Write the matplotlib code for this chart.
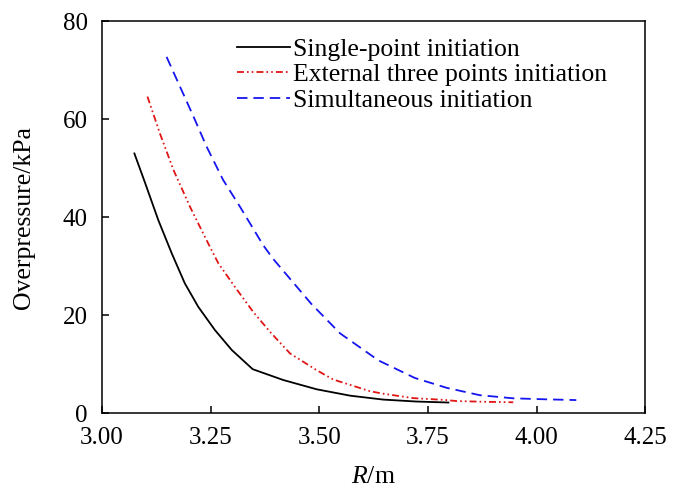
import matplotlib
matplotlib.use("Agg")
import matplotlib.pyplot as plt

plt.rcParams["font.family"] = ["Liberation Serif", "DejaVu Serif"]
plt.rcParams["mathtext.fontset"] = "custom"
plt.rcParams["mathtext.rm"] = "Liberation Serif"
plt.rcParams["mathtext.it"] = "Liberation Serif:italic"
plt.rcParams["lines.scale_dashes"] = False

# Single-point initiation
r_single = [3.075, 3.100, 3.130, 3.161, 3.191, 3.222, 3.260, 3.299, 3.347,
            3.417, 3.494, 3.571, 3.647, 3.724, 3.797]
p_single = [53.0, 46.9, 39.4, 32.6, 26.5, 21.7, 17.0, 12.9, 9.0,
            6.8, 4.9, 3.6, 2.8, 2.4, 2.2]

# External three points initiation
r_three = [3.105, 3.134, 3.165, 3.203, 3.237, 3.268, 3.306, 3.348, 3.387,
           3.433, 3.494, 3.532, 3.571, 3.617, 3.647, 3.716, 3.785, 3.816,
           3.880, 3.946]
p_three = [64.6, 57.0, 49.6, 42.1, 36.0, 30.6, 25.8, 20.7, 16.6,
           12.2, 8.8, 6.9, 5.8, 4.5, 4.0, 3.1, 2.75, 2.5,
           2.35, 2.25]

# Simultaneous initiation
r_simul = [3.149, 3.180, 3.211, 3.241, 3.279, 3.318, 3.371, 3.394, 3.482,
           3.548, 3.636, 3.720, 3.793, 3.869, 3.946, 4.022, 4.091]
p_simul = [72.7, 66.6, 60.5, 54.4, 47.6, 42.1, 34.3, 31.5, 22.3,
           16.3, 10.8, 7.2, 5.2, 3.7, 3.06, 2.85, 2.7]

x_ticks = [3.00, 3.25, 3.50, 3.75, 4.00, 4.25]
y_ticks = [0, 20, 40, 60, 80]

fig = plt.figure(figsize=(6.83, 4.9), dpi=100)
ax = fig.add_axes([0.149, 0.1565, 0.796, 0.8005])

ax.plot(r_single, p_single, color="black", lw=1.3, label="Single-point initiation")
ax.plot(r_three, p_three, color="#e01515", lw=1.3,
        linestyle=(0, (5, 2.2, 1.2, 2.2, 1.2, 2.2)),
        label="External three points initiation")
ax.plot(r_simul, p_simul, color="#1515f0", lw=1.3,
        linestyle=(0, (7.5, 4.3)), label="Simultaneous initiation")

ax.set_xlim(3.0, 4.25)
ax.set_ylim(0, 80)
ax.set_xticks(x_ticks)
ax.set_xticklabels([f"{t:.2f}" for t in x_ticks])
ax.set_yticks(y_ticks)
ax.tick_params(direction="in", length=5, width=1.1, labelsize=18, pad=10,
               top=False, right=False)
for s in ax.spines.values():
    s.set_linewidth(1.1)

ax.set_xlabel("$R$/m", fontsize=18.5, labelpad=12)
ax.set_ylabel("Overpressure/kPa", fontsize=18.5, labelpad=20)

ax.legend(loc="upper left", bbox_to_anchor=(0.249, 0.958), frameon=False,
          fontsize=18.5, handlelength=2.06, handletextpad=0.1,
          labelspacing=0.1, borderaxespad=0, borderpad=0)

fig.savefig("out.png", dpi=100)
